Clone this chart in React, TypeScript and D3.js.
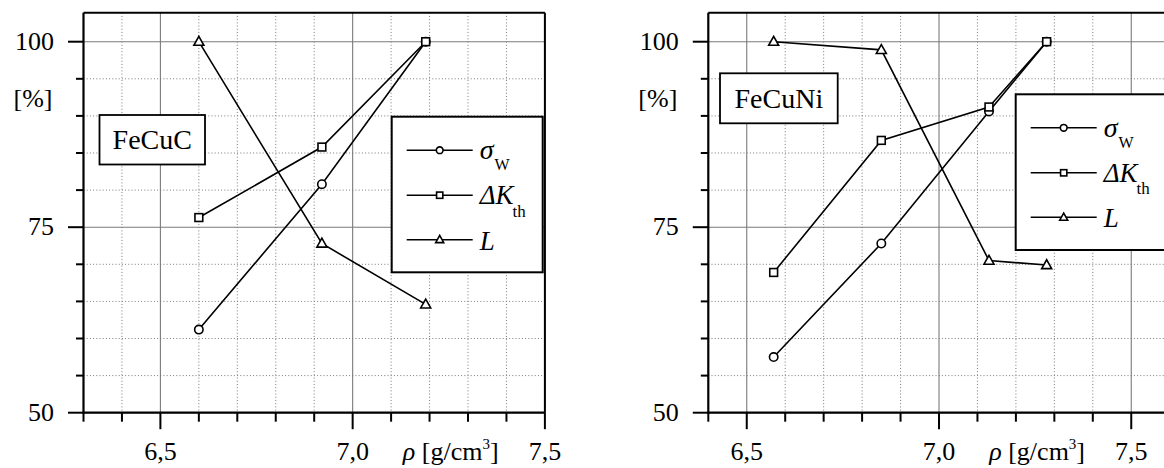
import React from "react";
import * as d3 from "d3";

// FeCuC alloy: density vs. relative properties [%]
const densityFeCuC = [6.6, 6.92, 7.19];
const sigmaFeCuC = [61.2, 80.8, 100];
const deltaKFeCuC = [76.3, 85.8, 100];
const lengthFeCuC = [100, 72.8, 64.6];

// FeCuNi alloy
const densityFeCuNi = [6.57, 6.85, 7.13, 7.28];
const sigmaFeCuNi = [57.5, 72.8, 90.6, 100];
const deltaKFeCuNi = [68.9, 86.7, 91.2, 100];
const lengthFeCuNi = [100, 98.9, 70.5, 69.9];

const yMajorTicks = [50, 75, 100];
const xMajorTicks = [6.5, 7.0, 7.5];
const fmtComma = (v: number) => v.toFixed(1).replace(".", ",");

const SERIF = "Liberation Serif";
const PX_PER_UNIT = 384.5;
const GRID = "#7a7a7a";

type MarkerKind = "circle" | "square" | "triangle";

function Marker({ kind, x, y, s = 1 }: { kind: MarkerKind; x: number; y: number; s?: number }) {
  const common = { fill: "#fff", stroke: "#000", strokeWidth: 1.6 };
  if (kind === "circle") return <circle cx={x} cy={y} r={4.2 * s} {...common} />;
  if (kind === "square") {
    const h = 3.9 * s;
    return <rect x={x - h} y={y - h} width={2 * h} height={2 * h} {...common} />;
  }
  const pts = [
    [x, y - 5.3 * s],
    [x + 5 * s, y + 3.6 * s],
    [x - 5 * s, y + 3.6 * s],
  ]
    .map((p) => p.join(","))
    .join(" ");
  return <polygon points={pts} {...common} />;
}

type PanelProps = {
  x0: number;
  xMin: number;
  xMax: number;
  density: number[];
  sigma: number[];
  deltaK: number[];
  length: number[];
  name: string;
  nameBox: { x: number; y: number; w: number; h: number };
  legend: { x: number; y: number; w: number; h: number };
};

const txt = (size: number, extra: React.CSSProperties = {}): React.CSSProperties => ({
  fontFamily: SERIF,
  fontSize: size,
  ...extra,
});

function Panel(p: PanelProps) {
  const x = d3
    .scaleLinear()
    .domain([p.xMin, p.xMax])
    .range([p.x0, p.x0 + (p.xMax - p.xMin) * PX_PER_UNIT]);
  const y = d3.scaleLinear().domain([50, 100]).range([412.7, 41.7]);
  const left = x(p.xMin);
  const right = x(p.xMax);
  const top = y(103.9);
  const bottom = y(50);

  const xTicks = d3.range(Math.round(p.xMin * 10), Math.round(p.xMax * 10) + 1).map((v) => v / 10);
  const yTicks = d3.range(50, 101, 5);
  const isMajorX = (v: number) => Math.abs(v * 2 - Math.round(v * 2)) < 1e-6;
  const isMajorY = (v: number) => v % 25 === 0;

  const line = d3
    .line<[number, number]>()
    .x((d) => x(d[0]))
    .y((d) => y(d[1]));

  const series: { values: number[]; kind: MarkerKind }[] = [
    { values: p.length, kind: "triangle" },
    { values: p.sigma, kind: "circle" },
    { values: p.deltaK, kind: "square" },
  ];

  const lg = p.legend;
  const rows = [lg.y + 33.5, lg.y + 78.5, lg.y + 123];
  const lx0 = lg.x + 15;
  const lx1 = lg.x + 81;
  const lxm = (lx0 + lx1) / 2;
  const tx = lg.x + 88;

  return (
    <g>
      {/* grid */}
      {xTicks.map((v) => (
        <line
          key={"gx" + v}
          x1={x(v)}
          x2={x(v)}
          y1={top}
          y2={bottom}
          stroke={GRID}
          strokeWidth={isMajorX(v) ? 1.1 : 1}
          strokeDasharray={isMajorX(v) ? undefined : "1,2.2"}
        />
      ))}
      {yTicks.map((v) => (
        <line
          key={"gy" + v}
          x1={left}
          x2={right}
          y1={y(v)}
          y2={y(v)}
          stroke={GRID}
          strokeWidth={isMajorY(v) ? 1.1 : 1}
          strokeDasharray={isMajorY(v) ? undefined : "1,2.2"}
        />
      ))}

      {/* frame and axes */}
      <line x1={left} x2={right} y1={top} y2={top} stroke="#000" strokeWidth={2} />
      <line x1={right} x2={right} y1={top} y2={bottom} stroke="#000" strokeWidth={2} />
      <line x1={left} x2={left} y1={top} y2={bottom + 1} stroke="#000" strokeWidth={2.2} />
      <line x1={left - 1} x2={right} y1={bottom} y2={bottom} stroke="#000" strokeWidth={2.2} />
      {yTicks.map((v) => (
        <line
          key={"ty" + v}
          x1={left - (isMajorY(v) ? 15.5 : 7.5)}
          x2={left}
          y1={y(v)}
          y2={y(v)}
          stroke="#000"
          strokeWidth={2}
        />
      ))}
      {xTicks.map((v) => (
        <line
          key={"tx" + v}
          x1={x(v)}
          x2={x(v)}
          y1={bottom}
          y2={bottom + (isMajorX(v) ? 16.5 : 9)}
          stroke="#000"
          strokeWidth={2}
        />
      ))}

      {/* tick labels */}
      {yMajorTicks.map((v) => (
        <text key={"ly" + v} x={left - 29.5} y={y(v) + 8} textAnchor="end" style={txt(26)}>
          {v}
        </text>
      ))}
      {xMajorTicks.map((v) => (
        <text key={"lx" + v} x={x(v)} y={459.5} textAnchor="middle" style={txt(26)}>
          {fmtComma(v)}
        </text>
      ))}
      <text x={left - 31} y={107} textAnchor="end" style={txt(26)}>
        [%]
      </text>
      <text x={x(7.25) + 2} y={459.5} textAnchor="middle" style={txt(26)}>
        <tspan style={{ fontStyle: "italic" }}>ρ</tspan>
        <tspan> [g/cm</tspan>
        <tspan style={{ fontSize: 15 }} dy={-11}>
          3
        </tspan>
        <tspan dy={11}>]</tspan>
      </text>

      {/* data series */}
      {series.map((s, i) => (
        <path
          key={"s" + i}
          d={line(p.density.map((d, j) => [d, s.values[j]] as [number, number])) || ""}
          fill="none"
          stroke="#000"
          strokeWidth={1.6}
        />
      ))}
      {series.map((s, i) =>
        p.density.map((d, j) => (
          <Marker key={"m" + i + "-" + j} kind={s.kind} x={x(d)} y={y(s.values[j])} />
        ))
      )}

      {/* alloy name */}
      <rect
        x={p.nameBox.x}
        y={p.nameBox.y}
        width={p.nameBox.w}
        height={p.nameBox.h}
        fill="#fff"
        stroke="#000"
        strokeWidth={1.8}
      />
      <text
        x={p.nameBox.x + p.nameBox.w / 2}
        y={p.nameBox.y + p.nameBox.h / 2 + 9.5}
        textAnchor="middle"
        style={txt(28)}
      >
        {p.name}
      </text>

      {/* legend */}
      <rect x={lg.x} y={lg.y} width={lg.w} height={lg.h} fill="#fff" stroke="#000" strokeWidth={2} />
      {(["circle", "square", "triangle"] as MarkerKind[]).map((k, i) => (
        <g key={"lg" + k}>
          <line x1={lx0} x2={lx1} y1={rows[i]} y2={rows[i]} stroke="#000" strokeWidth={1.6} />
          <Marker kind={k} x={lxm} y={rows[i]} s={0.8} />
        </g>
      ))}
      <text x={tx} y={rows[0] + 9} style={txt(28)}>
        <tspan style={{ fontStyle: "italic" }}>σ</tspan>
        <tspan style={{ fontSize: 16 }} dy={11} dx={1}>
          W
        </tspan>
      </text>
      <text x={tx} y={rows[1] + 9} style={txt(27)}>
        <tspan style={{ fontStyle: "italic" }}>ΔK</tspan>
        <tspan style={{ fontSize: 17 }} dy={12.5} dx={-1}>
          th
        </tspan>
      </text>
      <text x={tx} y={rows[2] + 10} style={txt(27, { fontStyle: "italic" })}>
        L
      </text>
    </g>
  );
}

export default function App() {
  return (
    <div>
      <style>{"body{margin:0;background:#fff}"}</style>
      <svg width={1164} height={468} style={{ display: "block", background: "#fff" }}>
        <Panel
          x0={83.5}
          xMin={6.3}
          xMax={7.5}
          density={densityFeCuC}
          sigma={sigmaFeCuC}
          deltaK={deltaKFeCuC}
          length={lengthFeCuC}
          name="FeCuC"
          nameBox={{ x: 99.5, y: 115, w: 105.5, h: 49.5 }}
          legend={{ x: 391.7, y: 116.7, w: 151, h: 155.6 }}
        />
        <Panel
          x0={708.3}
          xMin={6.4}
          xMax={7.6}
          density={densityFeCuNi}
          sigma={sigmaFeCuNi}
          deltaK={deltaKFeCuNi}
          length={lengthFeCuNi}
          name="FeCuNi"
          nameBox={{ x: 720, y: 73.3, w: 117.7, h: 50 }}
          legend={{ x: 1015.7, y: 94.3, w: 170, h: 155.7 }}
        />
      </svg>
    </div>
  );
}
